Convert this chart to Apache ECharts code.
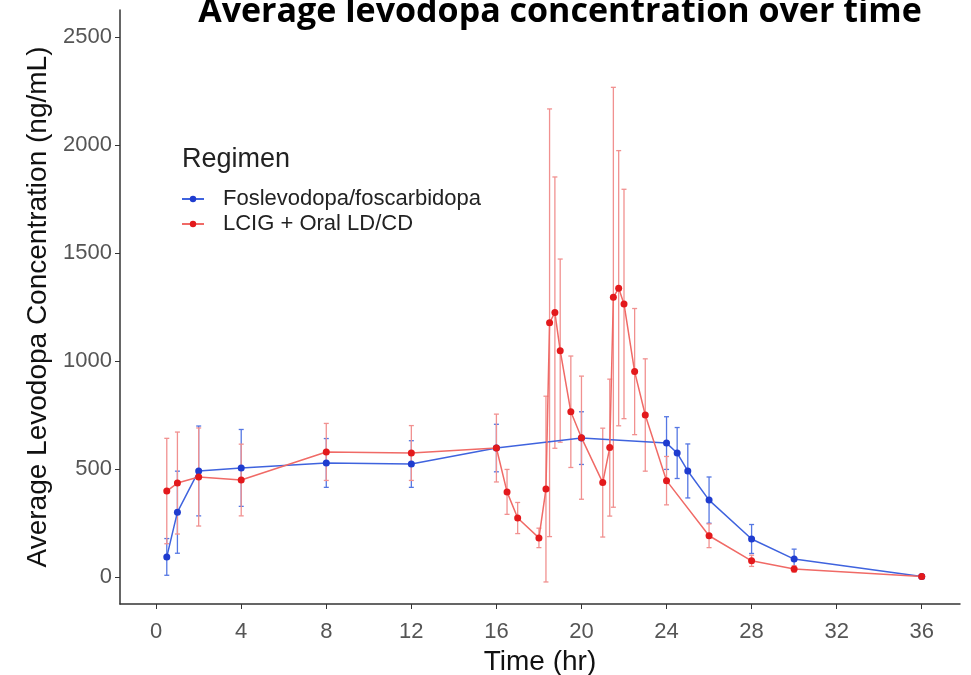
<!DOCTYPE html>
<html>
<head>
<meta charset="utf-8">
<script src="https://cdn.jsdelivr.net/npm/echarts@6/dist/echarts.min.js"></script>
<style>
html,body{margin:0;padding:0;background:#fff;}
#chart{width:971px;height:675px;}
</style>
</head>
<body>
<div id="chart"></div>
<script>
// ---- data ----
const titleText = 'Average levodopa concentration over time';
const legendTitle = 'Regimen';
const seriesNames = ['Foslevodopa/foscarbidopa', 'LCIG + Oral LD/CD'];
const xTicks = [0, 4, 8, 12, 16, 20, 24, 28, 32, 36];
const yTicks = [0, 500, 1000, 1500, 2000, 2500];

const blueTime = [0.5, 1, 2, 4, 8, 12, 16, 20, 24, 24.5, 25, 26, 28, 30, 36];
const blueMean = [93, 300, 491, 505, 528, 523, 597, 643, 620, 574, 491, 356, 176, 83, 2];
const blueSD   = [85, 190, 208, 178, 113, 108, 110, 122, 122, 118, 125, 107, 67, 46, 8];

const redTime = [0.5, 1, 2, 4, 8, 12, 16, 16.5, 17, 18, 18.33, 18.5, 18.75, 19, 19.5, 20, 21, 21.33, 21.5, 21.75, 22, 22.5, 23, 24, 26, 28, 30, 36];
const redMean = [398, 435, 463, 449, 579, 574, 597, 394, 273, 181, 407, 1177, 1224, 1048, 765, 645, 437, 599, 1295, 1337, 1264, 951, 750, 446, 191, 75, 37, 2];
const redSD   = [244, 236, 227, 166, 132, 127, 157, 104, 72, 45, 430, 990, 628, 424, 258, 285, 252, 317, 972, 637, 531, 292, 260, 112, 55, 26, 15, 8];

// ---- styles ----
const BLUE_PT = '#1f3ccf', BLUE_LN = '#3f63de', BLUE_EB = '#5577e3';
const RED_PT = '#e3191c', RED_LN = '#f06a66', RED_EB = '#f19190';
const FONT = '"Liberation Sans", Arial, sans-serif';
const TICK_FONT = '"Liberation Sans Narrow", "Arial Narrow", "Liberation Sans", sans-serif';

function pts(t, m) { return t.map((v, i) => [v, m[i]]); }
function ebData(t, m, s) { return t.map((v, i) => [v, m[i] - s[i], m[i] + s[i]]); }

function ebRender(color) {
  return function (params, api) {
    const x = api.value(0);
    const lo = api.coord([x, api.value(1)]);
    const hi = api.coord([x, api.value(2)]);
    const w = 2.5;
    const st = { stroke: color, lineWidth: 1.3 };
    return {
      type: 'group',
      children: [
        { type: 'line', shape: { x1: lo[0], y1: lo[1], x2: hi[0], y2: hi[1] }, style: st },
        { type: 'line', shape: { x1: lo[0] - w, y1: lo[1], x2: lo[0] + w, y2: lo[1] }, style: st },
        { type: 'line', shape: { x1: hi[0] - w, y1: hi[1], x2: hi[0] + w, y2: hi[1] }, style: st }
      ]
    };
  };
}

const chart = echarts.init(document.getElementById('chart'));
chart.setOption({
  backgroundColor: '#fff',
  animation: false,
  title: [{
    text: legendTitle, left: 177, top: 141,
    textStyle: { fontFamily: FONT, fontSize: 27, fontWeight: 'normal', color: '#222' }
  }],
  graphic: [{
    type: 'text', x: 560, y: 12,
    style: {
      text: titleText, textAlign: 'center', textVerticalAlign: 'middle',
      font: 'bold 34px "Open Sans", sans-serif', fill: '#000'
    }
  }],
  legend: {
    orient: 'vertical', left: 176, top: 183,
    itemWidth: 22, itemHeight: 8, itemGap: 3,
    data: seriesNames,
    textStyle: { fontFamily: FONT, fontSize: 22, color: '#222', padding: [0, 0, 0, 14] }
  },
  grid: { left: 120, right: 11, top: 10, bottom: 71, containLabel: false, outerBoundsMode: 'none' },
  xAxis: {
    type: 'value', min: -1.7, max: 37.8,
    name: 'Time (hr)', nameLocation: 'middle', nameGap: 42,
    nameTextStyle: { fontFamily: FONT, fontSize: 28, color: '#111' },
    axisLine: { show: true, onZero: false, lineStyle: { color: '#333', width: 1.5 } },
    axisTick: { show: true, length: 5, customValues: xTicks, lineStyle: { color: '#333' } },
    axisLabel: { customValues: xTicks, fontFamily: TICK_FONT, fontSize: 22, color: '#555', margin: 17 },
    splitLine: { show: false }
  },
  yAxis: {
    type: 'value', min: -125, max: 2625,
    name: 'Average Levodopa Concentration (ng/mL)', nameLocation: 'middle', nameGap: 67,
    nameTextStyle: { fontFamily: FONT, fontSize: 28, color: '#111' },
    axisLine: { show: true, onZero: false, lineStyle: { color: '#333', width: 1.5 } },
    axisTick: { show: true, length: 5, customValues: yTicks, lineStyle: { color: '#333' } },
    axisLabel: { customValues: yTicks, fontFamily: TICK_FONT, fontSize: 22, color: '#555', margin: 8,
      formatter: v => String(v) },
    splitLine: { show: false }
  },
  series: [
    {
      type: 'custom', name: 'ebBlue', data: ebData(blueTime, blueMean, blueSD),
      renderItem: ebRender(BLUE_EB), encode: { x: 0, y: [1, 2] }, z: 1, silent: true
    },
    {
      type: 'custom', name: 'ebRed', data: ebData(redTime, redMean, redSD),
      renderItem: ebRender(RED_EB), encode: { x: 0, y: [1, 2] }, z: 2, silent: true
    },
    {
      type: 'line', name: seriesNames[0], data: pts(blueTime, blueMean),
      symbol: 'circle', symbolSize: 7, z: 3,
      lineStyle: { color: BLUE_LN, width: 1.5 },
      itemStyle: { color: BLUE_PT }
    },
    {
      type: 'line', name: seriesNames[1], data: pts(redTime, redMean),
      symbol: 'circle', symbolSize: 7, z: 4,
      lineStyle: { color: RED_LN, width: 1.5 },
      itemStyle: { color: RED_PT }
    }
  ]
});
</script>
</body>
</html>
